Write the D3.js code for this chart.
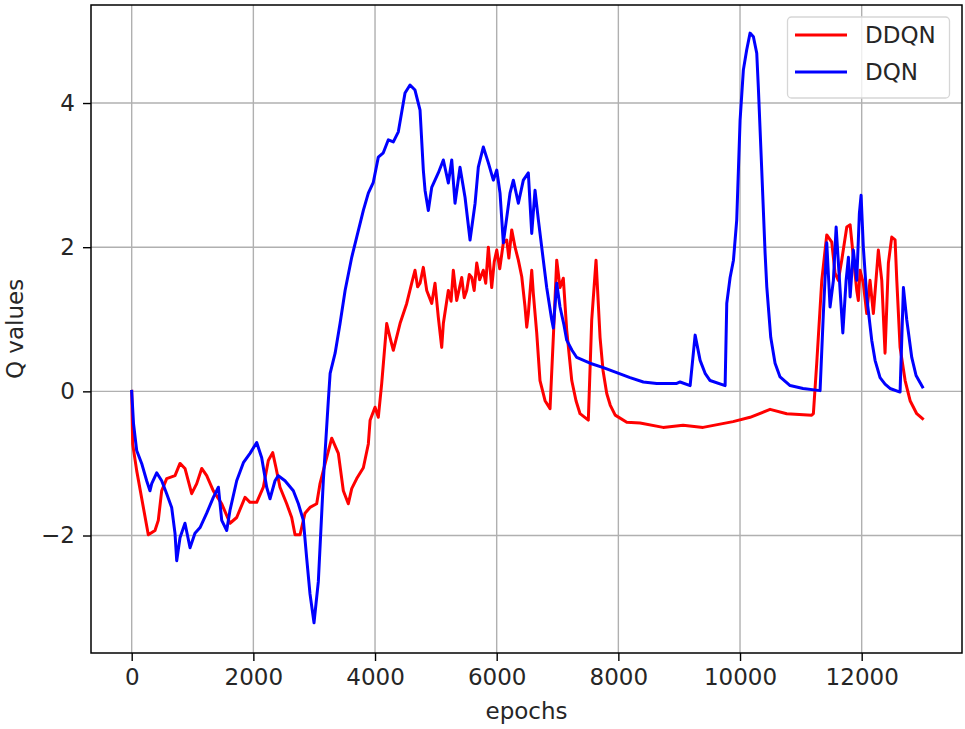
<!DOCTYPE html>
<html>
<head>
<meta charset="utf-8">
<script src="https://cdn.jsdelivr.net/npm/d3@7"></script>
<style>
  html, body { margin: 0; padding: 0; background: #ffffff; }
  svg { display: block; font-family: "DejaVu Sans", sans-serif; }
</style>
</head>
<body>
<svg id="chart" width="965" height="729"></svg>
<script>
// ---- data ----
const seriesNames = ["DDQN", "DQN"];
const xTicks = [0, 2000, 4000, 6000, 8000, 10000, 12000];
const yTicks = [-2, 0, 2, 4];
const xLabel = "epochs";
const yLabel = "Q values";

const ddqnEpochs = [0, 16, 82, 273, 383, 437, 493, 575, 712, 794, 876, 986, 1069, 1151, 1233, 1342, 1480, 1616, 1726, 1863, 1945, 2055, 2164, 2246, 2318, 2372, 2438, 2548, 2630, 2685, 2767, 2849, 2931, 3041, 3096, 3150, 3288, 3397, 3479, 3561, 3617, 3699, 3808, 3890, 3919, 4000, 4054, 4110, 4192, 4246, 4301, 4411, 4521, 4603, 4657, 4700, 4740, 4794, 4850, 4932, 4986, 5040, 5096, 5123, 5205, 5250, 5287, 5343, 5425, 5466, 5507, 5550, 5590, 5630, 5672, 5720, 5780, 5820, 5863, 5918, 5960, 6001, 6050, 6109, 6165, 6200, 6247, 6302, 6356, 6412, 6466, 6494, 6520, 6576, 6602, 6658, 6712, 6795, 6877, 6931, 6987, 7041, 7095, 7151, 7234, 7304, 7370, 7506, 7562, 7633, 7699, 7748, 7809, 7866, 7948, 8138, 8357, 8735, 9064, 9392, 9885, 10165, 10494, 10768, 11179, 11206, 11261, 11344, 11426, 11508, 11562, 11616, 11672, 11755, 11810, 11863, 11919, 11945, 11973, 12027, 12083, 12137, 12192, 12274, 12330, 12384, 12439, 12494, 12549, 12577, 12631, 12714, 12796, 12905, 13000];
const ddqnValues = [0, -0.73, -1.10, -1.99, -1.93, -1.79, -1.38, -1.21, -1.17, -1.00, -1.07, -1.42, -1.28, -1.07, -1.17, -1.38, -1.56, -1.83, -1.75, -1.47, -1.54, -1.54, -1.33, -0.96, -0.85, -1.06, -1.33, -1.56, -1.75, -1.99, -1.99, -1.69, -1.61, -1.56, -1.28, -1.10, -0.65, -0.86, -1.38, -1.56, -1.35, -1.21, -1.06, -0.73, -0.40, -0.22, -0.36, 0.11, 0.94, 0.75, 0.57, 0.94, 1.22, 1.50, 1.68, 1.45, 1.50, 1.72, 1.40, 1.22, 1.50, 1.03, 0.61, 0.94, 1.40, 1.25, 1.68, 1.26, 1.58, 1.30, 1.40, 1.62, 1.58, 1.40, 1.78, 1.55, 1.68, 1.50, 2.00, 1.44, 1.80, 1.96, 1.70, 2.06, 2.10, 1.85, 2.24, 2.00, 1.82, 1.59, 1.17, 0.89, 1.08, 1.68, 1.36, 0.81, 0.15, -0.13, -0.24, 0.75, 1.82, 1.44, 1.57, 0.85, 0.15, -0.13, -0.31, -0.40, 0.99, 1.82, 0.75, 0.29, -0.03, -0.19, -0.33, -0.43, -0.44, -0.50, -0.47, -0.50, -0.42, -0.36, -0.25, -0.31, -0.33, -0.31, 0.39, 1.54, 2.17, 2.07, 1.64, 1.54, 1.82, 2.28, 2.31, 1.86, 1.40, 1.26, 1.68, 1.50, 1.08, 1.54, 1.08, 1.96, 1.54, 0.53, 1.78, 2.14, 2.10, 1.54, 0.61, 0.15, -0.13, -0.31, -0.38];

const dqnEpochs = [0, 30, 82, 164, 246, 300, 329, 411, 493, 575, 657, 712, 740, 794, 876, 959, 1040, 1124, 1233, 1342, 1425, 1480, 1562, 1616, 1726, 1836, 1945, 2055, 2137, 2219, 2274, 2356, 2410, 2520, 2657, 2740, 2822, 2876, 2931, 2997, 3068, 3150, 3232, 3262, 3344, 3425, 3508, 3617, 3699, 3808, 3890, 3972, 4054, 4136, 4219, 4301, 4383, 4493, 4575, 4657, 4740, 4794, 4822, 4876, 4932, 5040, 5123, 5205, 5261, 5315, 5397, 5480, 5562, 5645, 5698, 5780, 5863, 5945, 6001, 6055, 6109, 6219, 6274, 6356, 6438, 6520, 6576, 6630, 6685, 6740, 6822, 6905, 6931, 6987, 7041, 7106, 7151, 7238, 7316, 7534, 7753, 7973, 8192, 8411, 8631, 8960, 9015, 9180, 9262, 9344, 9426, 9508, 9755, 9782, 9837, 9892, 9946, 10001, 10055, 10110, 10165, 10220, 10275, 10301, 10357, 10412, 10440, 10505, 10576, 10658, 10823, 11036, 11316, 11370, 11426, 11480, 11535, 11580, 11635, 11690, 11744, 11782, 11810, 11863, 11919, 11962, 11990, 12027, 12083, 12165, 12220, 12302, 12384, 12466, 12631, 12686, 12741, 12823, 12894, 13000];
const dqnValues = [0, -0.45, -0.82, -1.00, -1.24, -1.38, -1.28, -1.13, -1.24, -1.42, -1.61, -1.97, -2.35, -2.03, -1.83, -2.17, -1.97, -1.89, -1.69, -1.47, -1.33, -1.79, -1.93, -1.65, -1.24, -0.99, -0.86, -0.71, -0.92, -1.33, -1.49, -1.24, -1.17, -1.24, -1.38, -1.56, -1.79, -2.31, -2.81, -3.21, -2.64, -1.24, -0.13, 0.25, 0.53, 0.94, 1.40, 1.86, 2.14, 2.51, 2.75, 2.90, 3.25, 3.31, 3.49, 3.46, 3.60, 4.14, 4.25, 4.18, 3.90, 3.07, 2.79, 2.51, 2.83, 3.03, 3.21, 2.89, 3.21, 2.61, 3.11, 2.69, 2.10, 2.61, 3.11, 3.39, 3.17, 2.93, 3.07, 2.75, 2.06, 2.75, 2.93, 2.61, 2.93, 3.03, 2.19, 2.79, 2.38, 2.00, 1.44, 0.99, 0.88, 1.50, 1.17, 0.92, 0.71, 0.57, 0.47, 0.39, 0.33, 0.26, 0.19, 0.13, 0.11, 0.11, 0.13, 0.08, 0.78, 0.43, 0.25, 0.15, 0.08, 1.22, 1.58, 1.82, 2.38, 3.76, 4.46, 4.74, 4.97, 4.92, 4.69, 4.22, 3.07, 1.92, 1.45, 0.75, 0.39, 0.20, 0.08, 0.04, 0.01, 1.08, 2.06, 1.17, 1.54, 2.28, 1.54, 0.81, 1.54, 1.86, 1.31, 1.96, 1.54, 2.47, 2.72, 2.00, 1.31, 0.71, 0.43, 0.19, 0.10, 0.04, -0.01, 1.44, 0.99, 0.47, 0.22, 0.06];

const seriesColors = ["#ff0000", "#0000ff"];

// ---- layout ----
const svg = d3.select("#chart");
const plotLeft = 91, plotRight = 962, plotTop = 5, plotBottom = 653;

const x = d3.scaleLinear().domain([-669, 13649]).range([plotLeft, plotRight]);
const y = d3.scaleLinear().domain([-3.63, 5.36]).range([plotBottom, plotTop]);

const fontSize = 23;
const textColor = "#262626";
const lineWidth = 3;

// grid
const grid = svg.append("g");
grid.selectAll("line.gx").data(xTicks).join("line")
  .attr("x1", d => x(d)).attr("x2", d => x(d))
  .attr("y1", plotTop).attr("y2", plotBottom)
  .attr("stroke", "#b0b0b0").attr("stroke-width", 1.4);
grid.selectAll("line.gy").data(yTicks).join("line")
  .attr("x1", plotLeft).attr("x2", plotRight)
  .attr("y1", d => y(d)).attr("y2", d => y(d))
  .attr("stroke", "#b0b0b0").attr("stroke-width", 1.4);

// clip
svg.append("clipPath").attr("id", "plotclip").append("rect")
  .attr("x", plotLeft).attr("y", plotTop)
  .attr("width", plotRight - plotLeft).attr("height", plotBottom - plotTop);

const line = d3.line().x(d => x(d[0])).y(d => y(d[1]));
const series = [
  d3.zip(ddqnEpochs, ddqnValues),
  d3.zip(dqnEpochs, dqnValues)
];
const plot = svg.append("g").attr("clip-path", "url(#plotclip)");
series.forEach((s, i) => {
  plot.append("path").datum(s)
    .attr("d", line)
    .attr("fill", "none")
    .attr("stroke", seriesColors[i])
    .attr("stroke-width", lineWidth)
    .attr("stroke-linejoin", "round")
    .attr("stroke-linecap", "square");
});

// axes
const xAxis = d3.axisBottom(x).tickValues(xTicks).tickSize(8).tickPadding(8)
  .tickFormat(d3.format("d"));
const yAxis = d3.axisLeft(y).tickValues(yTicks).tickSize(8).tickPadding(8)
  .tickFormat(d => d < 0 ? "\u2212" + Math.abs(d) : String(d));

const gx = svg.append("g").attr("transform", `translate(0,${plotBottom})`).call(xAxis);
const gy = svg.append("g").attr("transform", `translate(${plotLeft},0)`).call(yAxis);
[gx, gy].forEach(g => {
  g.select(".domain").remove();
  g.selectAll(".tick line").attr("stroke", "#000").attr("stroke-width", 1.4);
  g.selectAll(".tick text").attr("fill", textColor)
    .style("font-size", fontSize + "px").style("font-family", "DejaVu Sans");
});

// frame (spines)
svg.append("rect")
  .attr("x", plotLeft).attr("y", plotTop)
  .attr("width", plotRight - plotLeft).attr("height", plotBottom - plotTop)
  .attr("fill", "none").attr("stroke", "#000").attr("stroke-width", 1.5);

// axis labels
svg.append("text")
  .attr("x", (plotLeft + plotRight) / 2).attr("y", 719)
  .attr("text-anchor", "middle")
  .attr("fill", textColor)
  .style("font-size", fontSize + "px")
  .text(xLabel);
svg.append("text")
  .attr("transform", `translate(23,${(plotTop + plotBottom) / 2}) rotate(-90)`)
  .attr("text-anchor", "middle")
  .attr("fill", textColor)
  .style("font-size", fontSize + "px")
  .text(yLabel);

// legend
const lg = svg.append("g");
lg.append("rect")
  .attr("x", 787.5).attr("y", 17).attr("width", 162).attr("height", 81)
  .attr("rx", 4).attr("ry", 4)
  .attr("fill", "#ffffff").attr("fill-opacity", 0.8)
  .attr("stroke", "#d6d6d6").attr("stroke-width", 1.3);
seriesNames.forEach((name, i) => {
  const cy = 35 + i * 37;
  lg.append("line")
    .attr("x1", 795).attr("x2", 847).attr("y1", cy).attr("y2", cy)
    .attr("stroke", seriesColors[i]).attr("stroke-width", lineWidth);
  lg.append("text")
    .attr("x", 865).attr("y", cy + 8)
    .attr("fill", textColor)
    .style("font-size", fontSize + "px")
    .text(name);
});
</script>
</body>
</html>
